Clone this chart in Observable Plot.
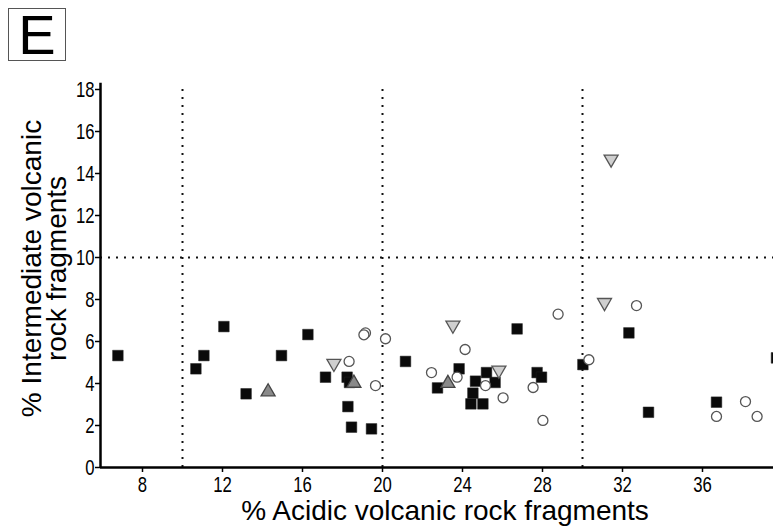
<!DOCTYPE html>
<html>
<head>
<meta charset="utf-8">
<script src="https://cdn.jsdelivr.net/npm/d3@7"></script>
<script src="https://cdn.jsdelivr.net/npm/@observablehq/plot@0.6"></script>
<style>
  html, body { margin: 0; padding: 0; background: #fff; }
  #wrap { position: relative; width: 773px; height: 529px; overflow: hidden; }
  #wrap svg { position: absolute; left: 0; top: 0; }
  #panel {
    position: absolute; left: 8px; top: 8px; width: 56px; height: 51px; z-index: 2;
    border: 1.5px solid #555; box-sizing: content-box; background: #fff;
    font-family: "Liberation Sans", Arial, sans-serif; font-size: 56px;
    line-height: 51px; text-align: center; color: #000;
  }
</style>
</head>
<body>
<div id="wrap"><div id="panel">E</div></div>
<script>
// Tick values and reference (boundary) lines
const xTicks = [8, 12, 16, 20, 24, 28, 32, 36];
const yTicks = [0, 2, 4, 6, 8, 10, 12, 14, 16, 18];
const xBoundaries = [10, 20, 30];
const yBoundaries = [10];

// Filled black squares
const squareX = [6.77, 12.07, 11.07, 10.67, 14.95, 13.18, 16.27, 17.15, 18.23, 18.35, 18.27, 18.45, 19.45, 21.15, 23.83, 22.75, 25.20, 24.65, 24.52, 24.42, 25.02, 25.63, 26.73, 27.73, 27.95, 30.02, 32.32, 33.30, 36.70, 39.70];
const squareY = [5.33, 6.71, 5.33, 4.70, 5.33, 3.51, 6.33, 4.30, 4.30, 4.05, 2.90, 1.92, 1.84, 5.05, 4.70, 3.79, 4.52, 4.11, 3.54, 3.03, 3.03, 4.05, 6.60, 4.52, 4.30, 4.90, 6.41, 2.63, 3.11, 5.22];

// Open circles
const circleX = [19.15, 19.07, 20.15, 18.33, 19.65, 24.13, 22.45, 23.73, 25.15, 28.78, 30.32, 26.03, 27.53, 28.02, 32.70, 36.70, 38.15, 38.73];
const circleY = [6.41, 6.32, 6.13, 5.05, 3.90, 5.62, 4.52, 4.30, 3.90, 7.30, 5.13, 3.32, 3.81, 2.24, 7.71, 2.43, 3.14, 2.43];

// Light grey downward triangles
const triDownX = [17.57, 23.52, 25.82, 31.10, 31.43];
const triDownY = [4.86, 6.68, 4.54, 7.76, 14.59];

// Dark grey upward triangles
const triUpX = [14.28, 18.57, 23.27];
const triUpY = [3.70, 4.11, 4.10];

const toRows = (xs, ys) => xs.map((x, i) => ({x, y: ys[i]}));

// Symbols sized directly from the dot radius
const radiusOf = (size) => Math.sqrt(size / Math.PI);
const squareSymbol = {
  draw(ctx, size) {
    const r = radiusOf(size);
    ctx.moveTo(-r, -r); ctx.lineTo(r, -r); ctx.lineTo(r, r); ctx.lineTo(-r, r); ctx.closePath();
  }
};
const triangleDown = {
  draw(ctx, size) {
    const r = radiusOf(size), h = r * Math.sqrt(3) / 2;
    ctx.moveTo(-r, -h); ctx.lineTo(r, -h); ctx.lineTo(0, h); ctx.closePath();
  }
};
const triangleUp = {
  draw(ctx, size) {
    const r = radiusOf(size), h = r * Math.sqrt(3) / 2;
    ctx.moveTo(-r, h); ctx.lineTo(r, h); ctx.lineTo(0, -h); ctx.closePath();
  }
};

const xMin = 5.9, xMax = 39.55;
const font = '"Liberation Sans", Arial, sans-serif';

const chart = Plot.plot({
  width: 773,
  height: 529,
  marginLeft: 100,
  marginRight: 0,
  marginTop: 89,
  marginBottom: 62,
  x: {domain: [xMin, xMax], label: null},
  y: {domain: [0, 18], label: null},
  style: {background: "#fff", color: "#000", fontFamily: font, fontSize: "22px"},
  marks: [
    // dotted boundary lines
    Plot.ruleX(xBoundaries, {y1: 0, y2: 18.2, stroke: "#111", strokeWidth: 2, strokeDasharray: "2 6", clip: false}),
    Plot.ruleY(yBoundaries, {x1: xMin, x2: xMax, stroke: "#111", strokeWidth: 2, strokeDasharray: "2 6"}),
    // axes
    Plot.axisX(xTicks, {tickSize: 5, tickPadding: 4, fontSize: 22, fontFamily: font, strokeWidth: 1.5}),
    Plot.axisY(yTicks, {tickSize: 5, tickPadding: 1, fontSize: 22, fontFamily: font, strokeWidth: 1.5}),
    Plot.ruleY([0], {x1: xMin, x2: xMax, stroke: "#000", strokeWidth: 2.5}),
    Plot.ruleX([xMin], {y1: 0, y2: 18.3, stroke: "#000", strokeWidth: 2.5, clip: false}),
    // data points
    Plot.dot(toRows(squareX, squareY), {x: "x", y: "y", symbol: squareSymbol, r: 5.3, fill: "#0a0a0a", stroke: "#222", strokeWidth: 0.5, clip: true}),
    Plot.dot(toRows(circleX, circleY), {x: "x", y: "y", symbol: "circle", r: 5, fill: "#fff", stroke: "#555", strokeWidth: 1.3, clip: true}),
    Plot.dot(toRows(triDownX, triDownY), {x: "x", y: "y", symbol: triangleDown, r: 7, fill: "#cfcfcf", stroke: "#555", strokeWidth: 1.3}),
    Plot.dot(toRows(triUpX, triUpY), {x: "x", y: "y", symbol: triangleUp, r: 7, fill: "#8a8a8a", stroke: "#444", strokeWidth: 1.3}),
    // axis titles
    Plot.text(["% Acidic volcanic rock fragments"], {frameAnchor: "bottom", dx: 8, dy: 52, fontSize: 28, fontFamily: font, fill: "#000"}),
    Plot.text(["% Intermediate volcanic\nrock fragments"], {frameAnchor: "left", textAnchor: "middle", dx: -55, dy: -10, rotate: -90, lineHeight: 0.9, fontSize: 28, fontFamily: font, fill: "#000"})
  ]
});

// Tick labels are set in a condensed face: squeeze each one about its anchor
for (const sel of ['[aria-label="x-axis tick label"] text', '[aria-label="y-axis tick label"] text']) {
  chart.querySelectorAll(sel).forEach((t) => {
    const tr = t.getAttribute("transform");
    if (tr) t.setAttribute("transform", tr + " scale(0.76,1)");
  });
}

document.getElementById("wrap").appendChild(chart);
</script>
</body>
</html>
